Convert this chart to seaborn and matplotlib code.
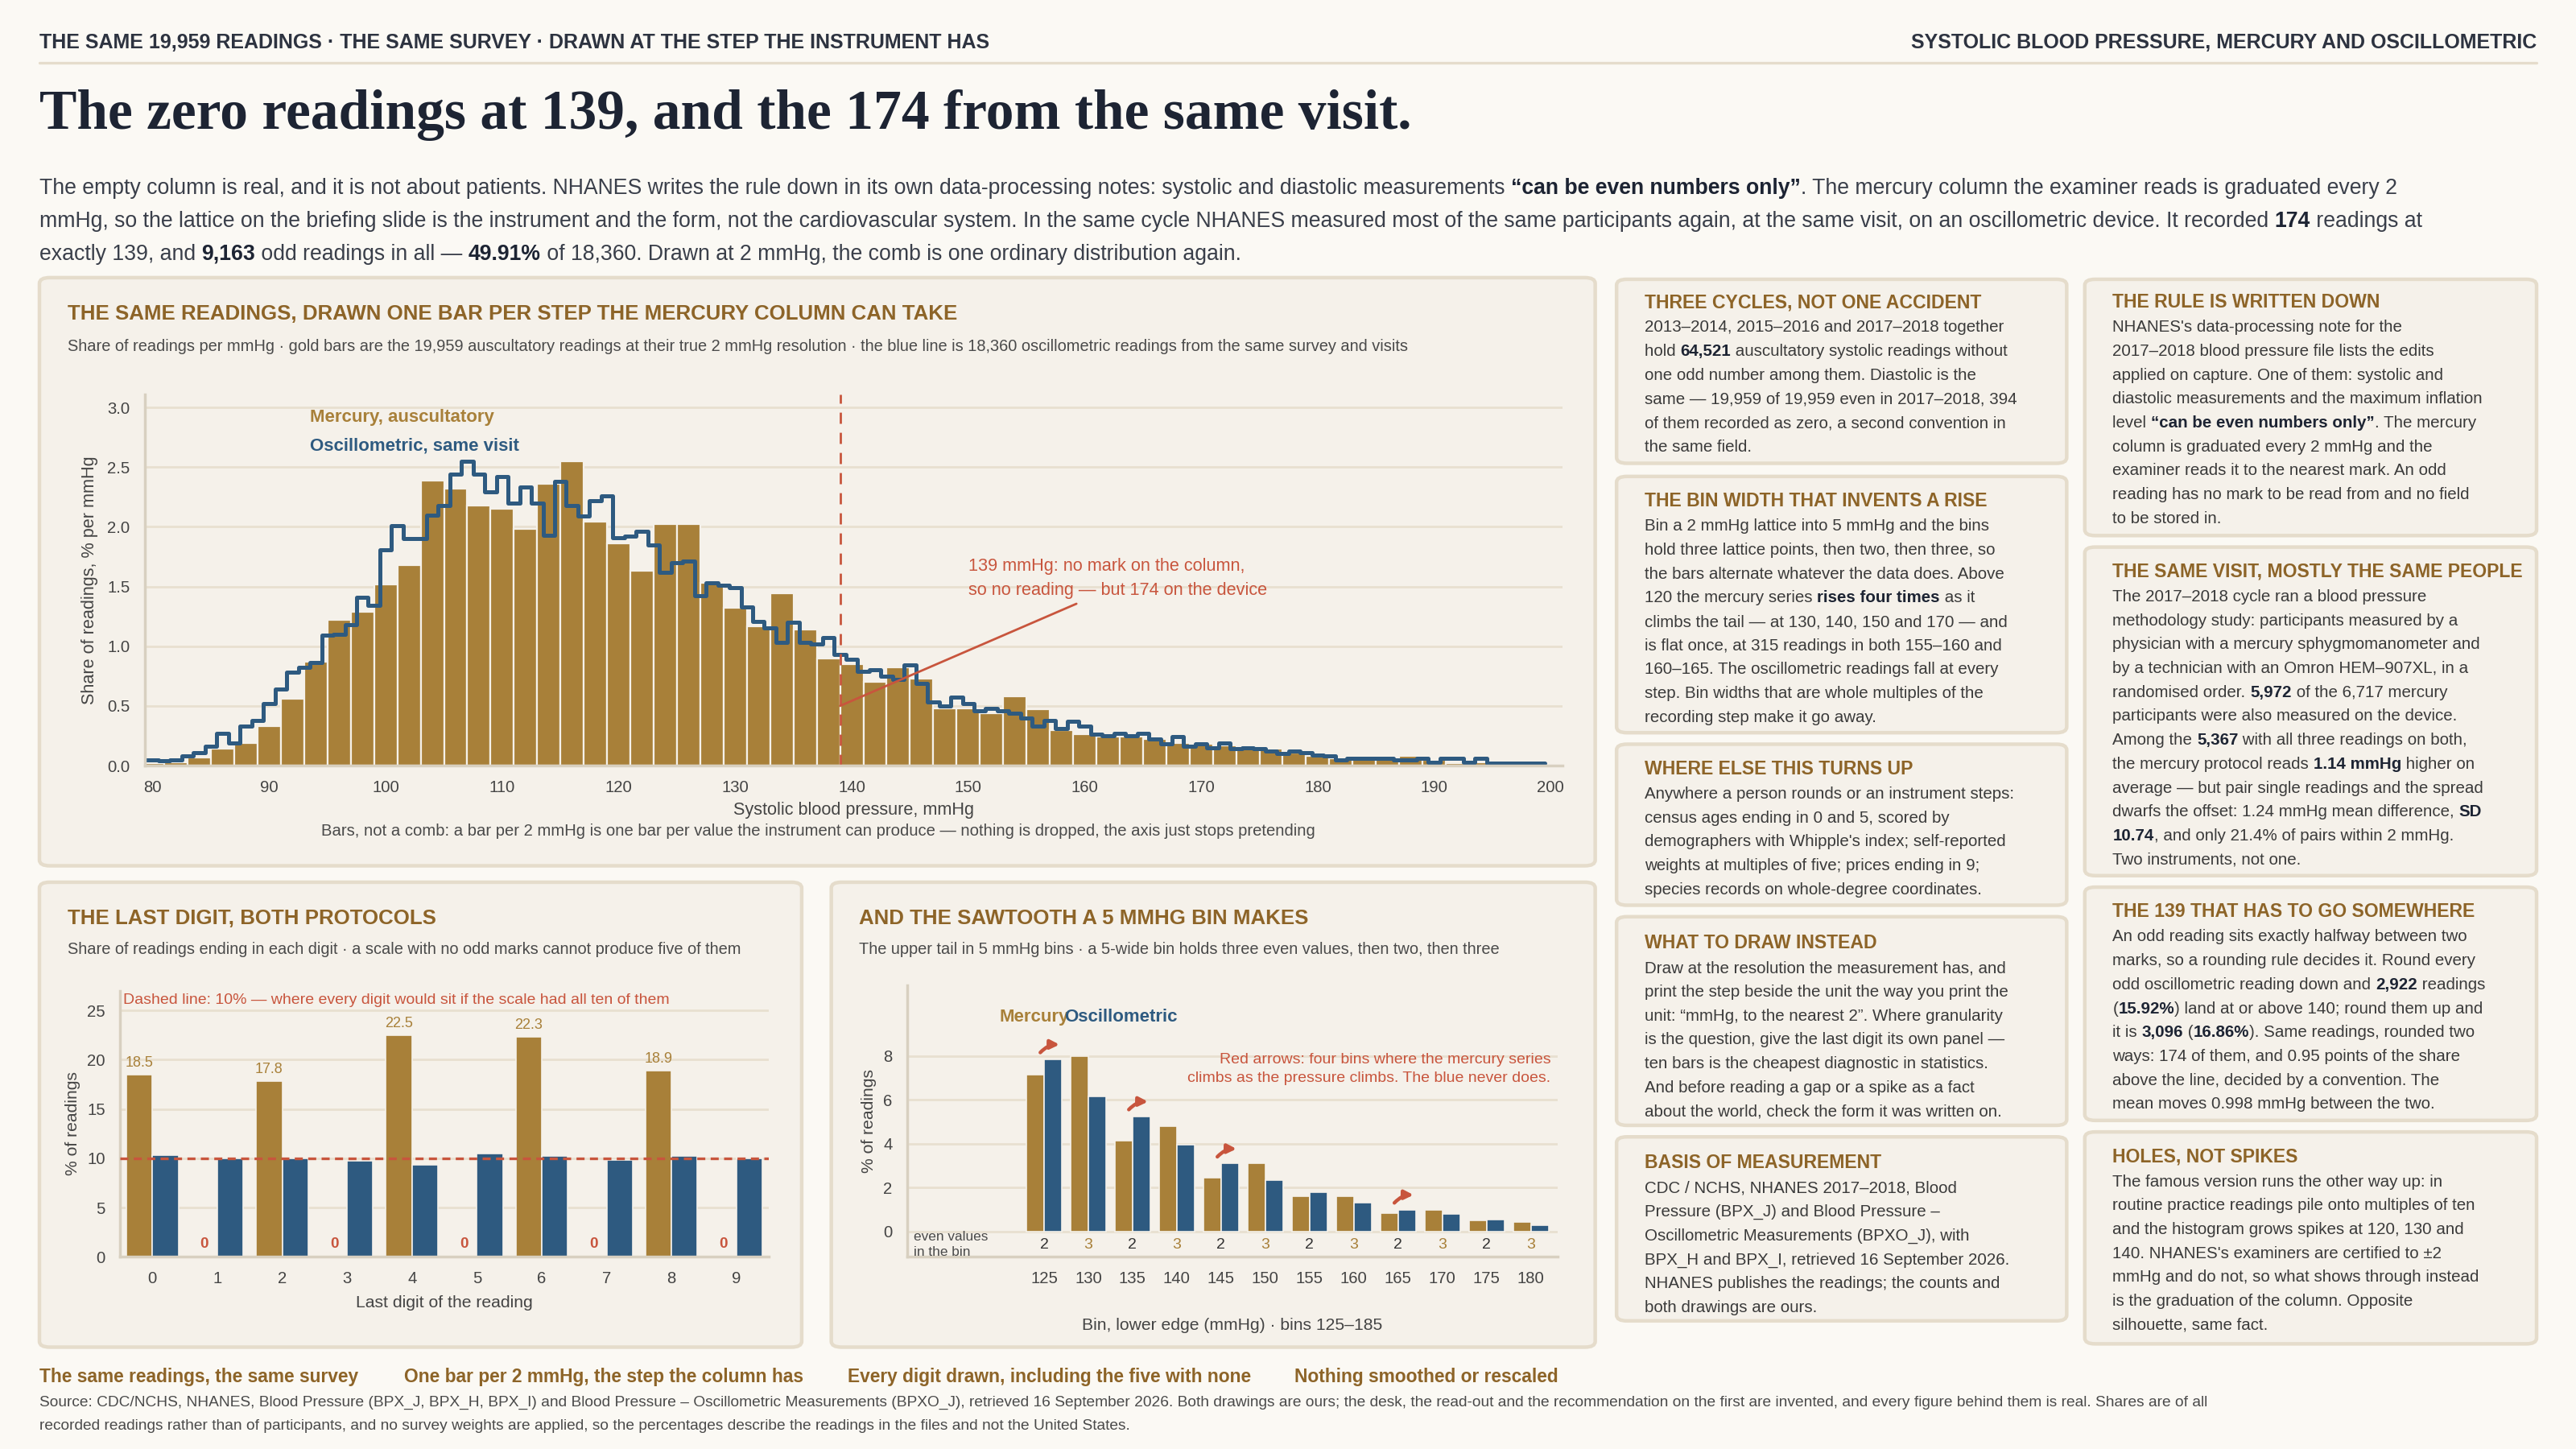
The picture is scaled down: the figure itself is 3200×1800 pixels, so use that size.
import numpy as np
import pandas as pd
import matplotlib
matplotlib.use("Agg")
import matplotlib.pyplot as plt
import seaborn as sns
from matplotlib.patches import FancyBboxPatch

# ---------------- data ----------------
merc_x = list(range(80, 201, 2))
merc_share = [0.02, 0.03, 0.07, 0.14, 0.19, 0.33, 0.56, 0.87, 1.22, 1.29, 1.52, 1.68,
              2.39, 2.32, 2.18, 2.15, 1.98, 2.36, 2.55, 2.04, 1.86, 1.63, 2.02, 2.02,
              1.53, 1.32, 1.17, 1.44, 1.14, 0.90, 0.85, 0.70, 0.82, 0.73, 0.48, 0.48,
              0.44, 0.58, 0.47, 0.30, 0.26, 0.24, 0.24, 0.22, 0.19, 0.18, 0.17, 0.15,
              0.14, 0.11, 0.08, 0.06, 0.07, 0.06, 0.08, 0.05, 0.02, 0.03, 0.02, 0.02, 0.01]
osc_x = list(range(80, 200))
osc_share = [0.05, 0.04, 0.05, 0.08, 0.11, 0.16, 0.27, 0.19, 0.33, 0.38,
             0.52, 0.64, 0.78, 0.82, 0.86, 1.09, 1.10, 1.18, 1.41, 1.34,
             1.81, 2.01, 1.90, 1.90, 2.10, 2.18, 2.44, 2.55, 2.44, 2.29,
             2.42, 2.20, 2.33, 2.20, 1.93, 2.38, 2.18, 2.09, 2.22, 2.26,
             1.91, 1.92, 1.96, 1.85, 1.62, 1.70, 1.71, 1.42, 1.53, 1.51,
             1.49, 1.33, 1.21, 1.15, 1.03, 1.20, 1.03, 1.02, 1.07, 0.93,
             0.89, 0.79, 0.80, 0.75, 0.72, 0.84, 0.69, 0.53, 0.50, 0.57,
             0.52, 0.46, 0.48, 0.46, 0.44, 0.40, 0.33, 0.38, 0.31, 0.37,
             0.33, 0.26, 0.25, 0.27, 0.25, 0.27, 0.22, 0.18, 0.24, 0.16,
             0.18, 0.15, 0.19, 0.14, 0.15, 0.14, 0.12, 0.10, 0.12, 0.11,
             0.09, 0.08, 0.05, 0.06, 0.06, 0.06, 0.06, 0.05, 0.05, 0.06,
             0.03, 0.06, 0.06, 0.03, 0.06, 0.02, 0.02, 0.02, 0.02, 0.02]

digits = list(range(10))
digit_merc = [18.5, 0, 17.8, 0, 22.5, 0, 22.3, 0, 18.9, 0]
digit_osc = [10.3, 10.0, 10.0, 9.7, 9.3, 10.5, 10.2, 9.8, 10.2, 10.0]

bin_edges = [125, 130, 135, 140, 145, 150, 155, 160, 165, 170, 175, 180]
bin_merc = [7.15, 8.0, 4.15, 4.8, 2.45, 3.1, 1.6, 1.6, 0.85, 1.0, 0.5, 0.45]
bin_osc = [7.85, 6.15, 5.25, 3.95, 3.1, 2.35, 1.8, 1.3, 1.0, 0.8, 0.55, 0.3]
bin_even = [2, 3, 2, 3, 2, 3, 2, 3, 2, 3, 2, 3]
rise_bins = [0, 2, 4, 8]

# ---------------- style ----------------
GOLD = "#a88039"
GOLD_T = "#8d6428"
BLUE = "#2e5a80"
RED = "#c8553d"
INK = "#1d2433"
GREY = "#4a4a4a"
BG = "#fbf9f4"
PANEL = "#f5f1ea"
EDGE = "#e5dccb"
GRID = "#e8e0d0"
SANS = ["Liberation Sans", "DejaVu Sans"]

sns.set_theme(style="white")
plt.rcParams["font.family"] = SANS
plt.rcParams["axes.facecolor"] = PANEL

fig = plt.figure(figsize=(16, 9), dpi=200, facecolor=BG)
W, H = 1568.0, 882.0
def fx(p): return p / W
def fy(p): return 1 - p / H

ov = fig.add_axes([0, 0, 1, 1], zorder=-5)
ov.set_axis_off()
ov.set_xlim(0, 1); ov.set_ylim(0, 1)

def box(x0, y0, x1, y1):
    ov.add_patch(FancyBboxPatch((fx(x0), fy(y1)), fx(x1) - fx(x0), fy(y0) - fy(y1),
                                boxstyle="round,pad=0,rounding_size=0.004",
                                fc=PANEL, ec=EDGE, lw=1.6, transform=ov.transAxes))

def rich(x, y, lines, size, lh, color=GREY, bcolor=INK, family=SANS):
    for i, line in enumerate(lines):
        yy = fy(y + i * lh)
        parts = line.split("**")
        prev = None
        for j, p in enumerate(parts):
            if not p:
                continue
            bold = j % 2 == 1
            kw = dict(fontsize=size, color=bcolor if bold else color,
                      fontweight="bold" if bold else "normal", family=family)
            if prev is None:
                prev = ov.text(fx(x), yy, p, va="bottom", ha="left",
                               transform=ov.transAxes, **kw)
            else:
                prev = ov.annotate(p, xy=(1, 0), xycoords=prev, va="bottom",
                                   ha="left", **kw)

# ---------------- header ----------------
ov.text(fx(24), fy(26), "THE SAME 19,959 READINGS · THE SAME SURVEY · DRAWN AT THE STEP THE INSTRUMENT HAS",
        fontsize=9, fontweight="bold", color="#2d3340", va="center", transform=ov.transAxes)
ov.text(fx(1544), fy(26), "SYSTOLIC BLOOD PRESSURE, MERCURY AND OSCILLOMETRIC",
        fontsize=9, fontweight="bold", color="#2d3340", va="center", ha="right", transform=ov.transAxes)
ov.plot([fx(24), fx(1544)], [fy(38), fy(38)], color=EDGE, lw=1.2, transform=ov.transAxes)
ov.text(fx(24), fy(70), "The zero readings at 139, and the 174 from the same visit.",
        fontsize=25, fontweight="bold", color=INK, va="center",
        family=["Liberation Serif", "DejaVu Serif"], transform=ov.transAxes)
rich(24, 121, [
    "The empty column is real, and it is not about patients. NHANES writes the rule down in its own data-processing notes: systolic and diastolic measurements **“can be even numbers only”**. The mercury column the examiner reads is graduated every 2",
    "mmHg, so the lattice on the briefing slide is the instrument and the form, not the cardiovascular system. In the same cycle NHANES measured most of the same participants again, at the same visit, on an oscillometric device. It recorded **174** readings at",
    "exactly 139, and **9,163** odd readings in all — **49.91%** of 18,360. Drawn at 2 mmHg, the comb is one ordinary distribution again.",
], 9.6, 20, color="#3a3f4a", bcolor=INK)

# ---------------- panels ----------------
box(24, 169, 971, 527)
box(24, 537, 488, 820)
box(506, 537, 971, 820)
col1 = [(170, 282), (290, 446), (453, 551), (558, 685), (692, 804)]
col2 = [(170, 326), (333, 533), (540, 682), (689, 818)]
for a, b in col1: box(984, a, 1258, b)
for a, b in col2: box(1269, a, 1544, b)

def ptitle(x, y, s, size=9.3):
    ov.text(fx(x), fy(y), s, fontsize=size, fontweight="bold", color=GOLD_T,
            va="center", transform=ov.transAxes)
def psub(x, y, s):
    ov.text(fx(x), fy(y), s, fontsize=7.2, color=GREY, va="center", transform=ov.transAxes)

ptitle(41, 191, "THE SAME READINGS, DRAWN ONE BAR PER STEP THE MERCURY COLUMN CAN TAKE")
psub(41, 211, "Share of readings per mmHg · gold bars are the 19,959 auscultatory readings at their true 2 mmHg resolution · the blue line is 18,360 oscillometric readings from the same survey and visits")
ptitle(41, 559, "THE LAST DIGIT, BOTH PROTOCOLS")
psub(41, 578, "Share of readings ending in each digit · a scale with no odd marks cannot produce five of them")
ptitle(523, 559, "AND THE SAWTOOTH A 5 MMHG BIN MAKES")
psub(523, 578, "The upper tail in 5 mmHg bins · a 5-wide bin holds three even values, then two, then three")

# ---------------- main chart ----------------
ax = fig.add_axes([fx(88), fy(466), fx(951) - fx(88), fy(240) - fy(466)])
ax.set_facecolor(PANEL)
dm = pd.DataFrame({"x": merc_x, "w": merc_share})
do = pd.DataFrame({"x": osc_x, "w": osc_share})
sns.histplot(data=dm, x="x", weights="w", binwidth=2, binrange=(79, 201), color=GOLD,
             alpha=1, edgecolor=PANEL, linewidth=0.8, ax=ax)
sns.histplot(data=do, x="x", weights="w", binwidth=1, binrange=(79.5, 199.5), element="step",
             fill=False, color=BLUE, linewidth=1.8, ax=ax)
ax.set_xlim(79.3, 201)
ax.set_ylim(0, 3.11)
ax.set_yticks([0, 0.5, 1.0, 1.5, 2.0, 2.5, 3.0])
ax.set_yticklabels(["0.0", "0.5", "1.0", "1.5", "2.0", "2.5", "3.0"])
ax.set_xticks(range(80, 201, 10))
ax.yaxis.grid(True, color=GRID, lw=1)
ax.set_axisbelow(True)
for s in ["top", "right"]: ax.spines[s].set_visible(False)
for s in ["left", "bottom"]: ax.spines[s].set_color("#d8d0c0")
ax.tick_params(labelsize=7.3, colors="#444444", length=3, width=0.8)
ax.set_xlabel("Systolic blood pressure, mmHg", fontsize=7.8, color="#444444", labelpad=3)
ax.set_ylabel("Share of readings, % per mmHg", fontsize=7.8, color="#444444", labelpad=4)
ax.axvline(139, color=RED, ls=(0, (5, 4)), lw=1)
ax.text(93.5, 2.88, "Mercury, auscultatory", color=GOLD, fontsize=8, fontweight="bold")
ax.text(93.5, 2.64, "Oscillometric, same visit", color=BLUE, fontsize=8, fontweight="bold")
ax.annotate("139 mmHg: no mark on the column,\nso no reading — but 174 on the device",
            xy=(139, 0.5), xytext=(150, 1.43), color=RED, fontsize=7.8, linespacing=1.55,
            arrowprops=dict(arrowstyle="-", color=RED, lw=1, shrinkA=0, shrinkB=0,
                            relpos=(0.4, 0.0)))
ov.text(fx(498), fy(506), "Bars, not a comb: a bar per 2 mmHg is one bar per value the instrument can produce — nothing is dropped, the axis just stops pretending",
        fontsize=7.3, color=GREY, ha="center", va="center", transform=ov.transAxes)

# ---------------- last digit ----------------
ax2 = fig.add_axes([fx(73), fy(765), fx(468) - fx(73), fy(603) - fy(765)])
ax2.set_facecolor(PANEL)
dd = pd.DataFrame({"digit": digits * 2, "share": digit_merc + digit_osc,
                   "protocol": ["Mercury"] * 10 + ["Oscillometric"] * 10})
sns.barplot(data=dd, x="digit", y="share", hue="protocol", palette=[GOLD, BLUE],
            ax=ax2, legend=False, width=0.8, saturation=1, edgecolor=PANEL, linewidth=0.6)
ax2.set_ylim(0, 27)
ax2.set_yticks([0, 5, 10, 15, 20, 25])
ax2.yaxis.grid(True, color=GRID, lw=1)
ax2.set_axisbelow(True)
for s in ["top", "right"]: ax2.spines[s].set_visible(False)
for s in ["left", "bottom"]: ax2.spines[s].set_color("#d8d0c0")
ax2.tick_params(labelsize=7.3, colors="#444444", length=3, width=0.8)
ax2.set_xlabel("Last digit of the reading", fontsize=7.6, color="#444444", labelpad=4)
ax2.set_ylabel("% of readings", fontsize=7.6, color="#444444", labelpad=3)
ax2.axhline(10, color=RED, ls=(0, (3, 2)), lw=1.2, zorder=5)
for i, v in enumerate(digit_merc):
    if v > 0:
        ax2.text(i - 0.2, v + 0.8, f"{v:.1f}", color=GOLD, fontsize=6.5, ha="center")
    else:
        ax2.text(i - 0.2, 0.9, "0", color=RED, fontsize=6.8, fontweight="bold", ha="center")
ax2.text(-0.45, 26.0, "Dashed line: 10% — where every digit would sit if the scale had all ten of them",
         color=RED, fontsize=7, va="center")

# ---------------- 5 mmHg bins ----------------
ax3 = fig.add_axes([fx(552), fy(765), fx(948) - fx(552), fy(600) - fy(765)])
ax3.set_facecolor(PANEL)
db = pd.DataFrame({"bin": [str(b) for b in bin_edges] * 2, "share": bin_merc + bin_osc,
                   "protocol": ["Mercury"] * 12 + ["Oscillometric"] * 12})
sns.barplot(data=db, x="bin", y="share", hue="protocol", palette=[GOLD, BLUE],
            ax=ax3, legend=False, width=0.8, saturation=1, edgecolor=PANEL, linewidth=0.6)
ax3.set_xlim(-3.1, 11.6)
ax3.set_ylim(-1.15, 11.2)
ax3.set_yticks([0, 2, 4, 6, 8])
ax3.yaxis.grid(True, color=GRID, lw=1)
ax3.set_axisbelow(True)
for s in ["top", "right"]: ax3.spines[s].set_visible(False)
for s in ["left", "bottom"]: ax3.spines[s].set_color("#d8d0c0")
ax3.tick_params(labelsize=7.3, colors="#444444", length=3, width=0.8)
ax3.set_xlabel("Bin, lower edge (mmHg) · bins 125–185", fontsize=7.6, color="#444444", labelpad=14)
ax3.set_ylabel("% of readings", fontsize=7.6, color="#444444", labelpad=3)
for i, n in enumerate(bin_even):
    ax3.text(i, -0.6, str(n), ha="center", va="center", fontsize=7,
             color="#333333" if n == 2 else GOLD)
ax3.text(-2.95, -0.6, "even values\nin the bin", fontsize=6.2, color=GREY, va="center", linespacing=1.3)
ax3.text(-1.0, 9.55, "Mercury", color=GOLD, fontsize=8, fontweight="bold")
ax3.text(0.45, 9.55, "Oscillometric", color=BLUE, fontsize=8, fontweight="bold")
ax3.text(11.45, 7.4, "Red arrows: four bins where the mercury series\nclimbs as the pressure climbs. The blue never does.",
         color=RED, fontsize=7, ha="right", va="center", linespacing=1.5)
for i in rise_bins:
    top = max(bin_merc[i], bin_osc[i])
    ax3.annotate("", xy=(i + 0.45, top + 0.65), xytext=(i - 0.15, top + 0.15),
                 arrowprops=dict(arrowstyle="-|>", color=RED, lw=1.6,
                                 connectionstyle="arc3,rad=-0.3", mutation_scale=8))

# ---------------- text panels ----------------
BS, LH = 7.4, 14.55
panels1 = [
    (184, "THREE CYCLES, NOT ONE ACCIDENT", [
        "2013–2014, 2015–2016 and 2017–2018 together",
        "hold **64,521** auscultatory systolic readings without",
        "one odd number among them. Diastolic is the",
        "same — 19,959 of 19,959 even in 2017–2018, 394",
        "of them recorded as zero, a second convention in",
        "the same field."]),
    (305, "THE BIN WIDTH THAT INVENTS A RISE", [
        "Bin a 2 mmHg lattice into 5 mmHg and the bins",
        "hold three lattice points, then two, then three, so",
        "the bars alternate whatever the data does. Above",
        "120 the mercury series **rises four times** as it",
        "climbs the tail — at 130, 140, 150 and 170 — and",
        "is flat once, at 315 readings in both 155–160 and",
        "160–165. The oscillometric readings fall at every",
        "step. Bin widths that are whole multiples of the",
        "recording step make it go away."]),
    (468, "WHERE ELSE THIS TURNS UP", [
        "Anywhere a person rounds or an instrument steps:",
        "census ages ending in 0 and 5, scored by",
        "demographers with Whipple's index; self-reported",
        "weights at multiples of five; prices ending in 9;",
        "species records on whole-degree coordinates."]),
    (574, "WHAT TO DRAW INSTEAD", [
        "Draw at the resolution the measurement has, and",
        "print the step beside the unit the way you print the",
        "unit: “mmHg, to the nearest 2”. Where granularity",
        "is the question, give the last digit its own panel —",
        "ten bars is the cheapest diagnostic in statistics.",
        "And before reading a gap or a spike as a fact",
        "about the world, check the form it was written on."]),
    (708, "BASIS OF MEASUREMENT", [
        "CDC / NCHS, NHANES 2017–2018, Blood",
        "Pressure (BPX_J) and Blood Pressure –",
        "Oscillometric Measurements (BPXO_J), with",
        "BPX_H and BPX_I, retrieved 16 September 2026.",
        "NHANES publishes the readings; the counts and",
        "both drawings are ours."]),
]
panels2 = [
    (184, "THE RULE IS WRITTEN DOWN", [
        "NHANES's data-processing note for the",
        "2017–2018 blood pressure file lists the edits",
        "applied on capture. One of them: systolic and",
        "diastolic measurements and the maximum inflation",
        "level **“can be even numbers only”**. The mercury",
        "column is graduated every 2 mmHg and the",
        "examiner reads it to the nearest mark. An odd",
        "reading has no mark to be read from and no field",
        "to be stored in."]),
    (348, "THE SAME VISIT, MOSTLY THE SAME PEOPLE", [
        "The 2017–2018 cycle ran a blood pressure",
        "methodology study: participants measured by a",
        "physician with a mercury sphygmomanometer and",
        "by a technician with an Omron HEM–907XL, in a",
        "randomised order. **5,972** of the 6,717 mercury",
        "participants were also measured on the device.",
        "Among the **5,367** with all three readings on both,",
        "the mercury protocol reads **1.14 mmHg** higher on",
        "average — but pair single readings and the spread",
        "dwarfs the offset: 1.24 mmHg mean difference, **SD**",
        "**10.74**, and only 21.4% of pairs within 2 mmHg.",
        "Two instruments, not one."]),
    (555, "THE 139 THAT HAS TO GO SOMEWHERE", [
        "An odd reading sits exactly halfway between two",
        "marks, so a rounding rule decides it. Round every",
        "odd oscillometric reading down and **2,922** readings",
        "(**15.92%**) land at or above 140; round them up and",
        "it is **3,096** (**16.86%**). Same readings, rounded two",
        "ways: 174 of them, and 0.95 points of the share",
        "above the line, decided by a convention. The",
        "mean moves 0.998 mmHg between the two."]),
    (704, "HOLES, NOT SPIKES", [
        "The famous version runs the other way up: in",
        "routine practice readings pile onto multiples of ten",
        "and the histogram grows spikes at 120, 130 and",
        "140. NHANES's examiners are certified to ±2",
        "mmHg and do not, so what shows through instead",
        "is the graduation of the column. Opposite",
        "silhouette, same fact."]),
]
for x0, panels in [(1001, panels1), (1286, panels2)]:
    for ty, title, body in panels:
        ptitle(x0, ty, title, size=8.3)
        rich(x0, ty + 20, body, BS, LH, color="#3a3a3a", bcolor=INK)

# ---------------- footer ----------------
for x, s in [(24, "The same readings, the same survey"),
             (246, "One bar per 2 mmHg, the step the column has"),
             (516, "Every digit drawn, including the five with none"),
             (788, "Nothing smoothed or rescaled")]:
    ov.text(fx(x), fy(838), s, fontsize=8.2, fontweight="bold", color=GOLD_T,
            va="center", transform=ov.transAxes)
ov.text(fx(24), fy(854), "Source: CDC/NCHS, NHANES, Blood Pressure (BPX_J, BPX_H, BPX_I) and Blood Pressure – Oscillometric Measurements (BPXO_J), retrieved 16 September 2026. Both drawings are ours; the desk, the read-out and the recommendation on the first are invented, and every figure behind them is real. Shares are of all",
        fontsize=6.9, color=GREY, va="center", transform=ov.transAxes)
ov.text(fx(24), fy(868), "recorded readings rather than of participants, and no survey weights are applied, so the percentages describe the readings in the files and not the United States.",
        fontsize=6.9, color=GREY, va="center", transform=ov.transAxes)

fig.savefig("out.png", dpi=200, facecolor=BG)
